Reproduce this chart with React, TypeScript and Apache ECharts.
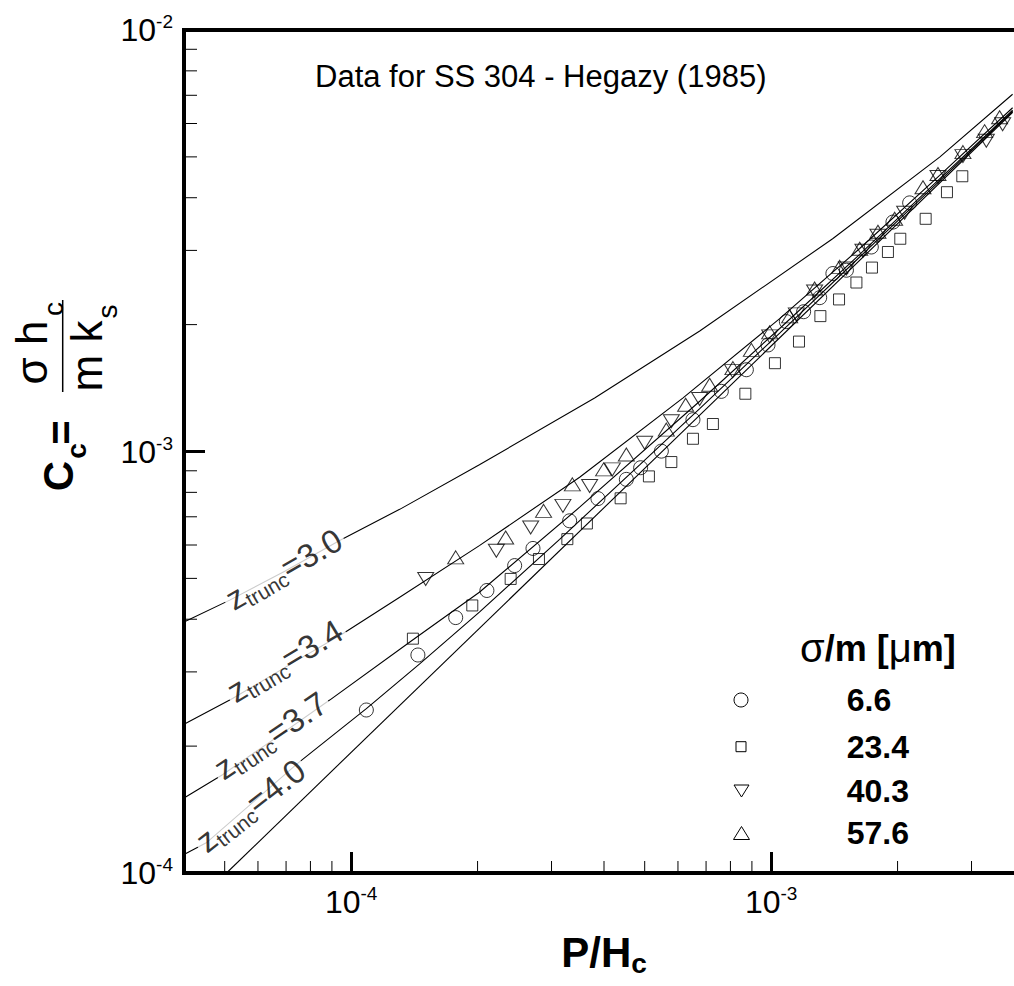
import React, { useEffect, useRef } from 'react';
import * as echarts from 'echarts';

const FONT = '"Liberation Sans", Arial, Helvetica, sans-serif';
const NARROW = '"Liberation Sans Narrow", "Arial Narrow", "Liberation Sans", Arial, sans-serif';

// Axis extents
const X_MIN = 4e-5;
const X_MAX = 4e-3;
const Y_MIN = 1e-4;
const Y_MAX = 1e-2;

// Minor tick values (decade sub-divisions)
const X_MINOR_TICKS = [5e-5, 6e-5, 7e-5, 8e-5, 9e-5, 2e-4, 3e-4, 4e-4, 5e-4, 6e-4, 7e-4, 8e-4, 9e-4, 2e-3, 3e-3];
const Y_MINOR_TICKS = [2e-4, 3e-4, 4e-4, 5e-4, 6e-4, 7e-4, 8e-4, 9e-4, 2e-3, 3e-3, 4e-3, 5e-3, 6e-3, 7e-3, 8e-3, 9e-3];

// Model curves [P/Hc, Cc]
const CURVE_CMY = [[5.05e-5, 1.0e-4], [3.76e-3, 6.38e-3]];
const CURVE_Z30 = [[4.0e-5, 3.94e-4], [5.14e-5, 4.44e-4], [6.95e-5, 5.2e-4], [9.39e-5, 6.15e-4], [1.305e-4, 7.29e-4], [2.02e-4, 9.3e-4], [3.8e-4, 1.339e-3], [6.76e-4, 1.931e-3], [1.401e-3, 3.197e-3], [2.519e-3, 4.995e-3], [3.758e-3, 7.04e-3]];
const CURVE_Z34 = [[4.0e-5, 2.253e-4], [5.22e-5, 2.595e-4], [7.06e-5, 3.1e-4], [9.55e-5, 3.695e-4], [1.305e-4, 4.51e-4], [2.02e-4, 5.98e-4], [3.5e-4, 8.69e-4], [6.16e-4, 1.339e-3], [1.048e-3, 2.067e-3], [1.625e-3, 3.031e-3], [2.519e-3, 4.518e-3], [3.758e-3, 6.539e-3]];
const CURVE_Z37 = [[4.0e-5, 1.506e-4], [4.94e-5, 1.711e-4], [6.5e-5, 2.067e-4], [8.89e-5, 2.572e-4], [1.401e-4, 3.571e-4], [2.02e-4, 4.636e-4], [3.5e-4, 7.377e-4], [6.76e-4, 1.316e-3], [1.048e-3, 1.958e-3], [1.625e-3, 2.934e-3], [2.519e-3, 4.432e-3], [3.758e-3, 6.45e-3]];
const CURVE_Z40 = [[4.0e-5, 1.106e-4], [4.52e-5, 1.179e-4], [7.47e-5, 1.822e-4], [1.087e-4, 2.454e-4], [1.456e-4, 3.134e-4], [2.02e-4, 4.159e-4], [3.136e-4, 6.188e-4], [4.864e-4, 9.297e-4], [6.76e-4, 1.264e-3], [1.048e-3, 1.91e-3], [1.625e-3, 2.894e-3], [2.519e-3, 4.385e-3], [3.758e-3, 6.415e-3]];

// Curve labels: z_trunc value, anchor on curve, text angle (deg)
const LABEL_Z = ['3.0', '3.4', '3.7', '4.0'];
const LABEL_POS = [[6.98e-5, 5.17e-4], [7.02e-5, 3.134e-4], [6.5e-5, 2.084e-4], [5.83e-5, 1.424e-4]];
const LABEL_ANGLE = [30, 31, 34, 38];

// Measured data, sigma/m [um]
const LEGEND_VALUES = ['6.6', '23.4', '40.3', '57.6'];
const PTS_66 = [[1.087e-4, 2.436e-4], [1.442e-4, 3.29e-4], [1.774e-4, 4.036e-4], [2.105e-4, 4.68e-4], [2.451e-4, 5.362e-4], [2.71e-4, 5.889e-4], [3.313e-4, 6.849e-4], [3.869e-4, 7.732e-4], [4.521e-4, 8.588e-4], [4.89e-4, 9.152e-4], [5.478e-4, 1.002e-3], [6.514e-4, 1.19e-3], [7.61e-4, 1.389e-3], [8.73e-4, 1.563e-3], [9.83e-4, 1.79e-3], [1.087e-3, 2.033e-3], [1.195e-3, 2.146e-3], [1.305e-3, 2.317e-3], [1.403e-3, 2.644e-3], [1.511e-3, 2.692e-3], [1.732e-3, 3.056e-3], [1.95e-3, 3.502e-3], [2.137e-3, 3.889e-3]];
const PTS_234 = [[1.403e-4, 3.597e-4], [1.943e-4, 4.313e-4], [2.398e-4, 4.985e-4], [2.8e-4, 5.558e-4], [3.272e-4, 6.195e-4], [3.642e-4, 6.749e-4], [4.382e-4, 7.744e-4], [5.117e-4, 8.728e-4], [5.786e-4, 9.44e-4], [6.514e-4, 1.072e-3], [7.267e-4, 1.162e-3], [8.682e-4, 1.371e-3], [1.021e-3, 1.62e-3], [1.165e-3, 1.823e-3], [1.31e-3, 2.095e-3], [1.451e-3, 2.295e-3], [1.596e-3, 2.517e-3], [1.738e-3, 2.731e-3], [1.897e-3, 2.974e-3], [2.03e-3, 3.197e-3], [2.333e-3, 3.565e-3], [2.622e-3, 4.123e-3], [2.852e-3, 4.498e-3]];
const PTS_403 = [[1.505e-4, 4.985e-4], [2.217e-4, 5.816e-4], [2.676e-4, 6.604e-4], [3.193e-4, 7.43e-4], [3.697e-4, 8.285e-4], [4.187e-4, 9.068e-4], [4.998e-4, 1.049e-3], [5.786e-4, 1.18e-3], [6.758e-4, 1.332e-3], [8.096e-4, 1.551e-3], [9.92e-4, 1.876e-3], [1.148e-3, 2.115e-3], [1.269e-3, 2.397e-3], [1.511e-3, 2.717e-3], [1.654e-3, 2.995e-3], [1.796e-3, 3.25e-3], [2.079e-3, 3.684e-3], [2.496e-3, 4.481e-3], [2.862e-3, 5.022e-3], [3.254e-3, 5.459e-3], [3.558e-3, 5.977e-3]];
const PTS_576 = [[1.774e-4, 5.609e-4], [2.333e-4, 6.253e-4], [2.872e-4, 7.231e-4], [3.363e-4, 8.356e-4], [3.992e-4, 9.068e-4], [4.521e-4, 9.84e-4], [5.629e-4, 1.127e-3], [6.258e-4, 1.291e-3], [7.138e-4, 1.44e-3], [8.11e-4, 1.577e-3], [8.973e-4, 1.742e-3], [9.92e-4, 1.917e-3], [1.107e-3, 2.092e-3], [1.269e-3, 2.436e-3], [1.456e-3, 2.742e-3], [1.625e-3, 3.028e-3], [1.796e-3, 3.322e-3], [1.968e-3, 3.566e-3], [2.299e-3, 4.236e-3], [2.496e-3, 4.554e-3], [2.862e-3, 5.133e-3], [3.223e-3, 5.754e-3], [3.499e-3, 6.21e-3]];

const TITLE = 'Data for SS 304 - Hegazy (1985)';

function powLabel(v: number) {
  const l = Math.log10(v);
  const r = Math.round(l);
  if (Math.abs(l - r) > 1e-6) return '';
  return `{a|10}{b|${r}}`;
}

const TICK_RICH = {
  a: { fontSize: 32, lineHeight: 36, fontFamily: FONT, color: '#000' },
  b: { fontSize: 19, lineHeight: 19, fontFamily: FONT, color: '#000', verticalAlign: 'top' },
};

function buildOption() {
  const curveLine = (name: string, data: number[][]) => ({
    name,
    type: 'line',
    data,
    symbol: 'none',
    smooth: false,
    silent: true,
    z: 2,
    lineStyle: { color: '#000', width: 1.1 },
  });
  const markerStyle = { color: 'rgba(0,0,0,0)', borderColor: '#000', borderWidth: 1 };
  const markers = (name: string, data: number[][], symbol: string, size: any, rotate = 0) => ({
    name,
    type: 'scatter',
    data,
    symbol,
    symbolSize: size,
    symbolRotate: rotate,
    silent: true,
    z: 3,
    itemStyle: markerStyle,
  });

  const rot = Math.PI / 2;
  const t = (text: string, x: number, y: number, size: number, bold: boolean, extra: any = {}) => {
    const { align, ...rest } = extra;
    return {
      type: 'text',
      x,
      y,
      silent: true,
      ...rest,
      style: {
        text,
        fontSize: size,
        fontWeight: bold ? 'bold' : 'normal',
        fontFamily: FONT,
        fill: '#000',
        align: align || 'center',
        verticalAlign: 'middle',
      },
    };
  };

  const legendY = [700, 746.7, 791, 833];

  return {
    animation: false,
    backgroundColor: '#fff',
    grid: { left: 184, right: 16, top: 30, bottom: 109, show: true, borderColor: '#000', borderWidth: 4, backgroundColor: 'rgba(0,0,0,0)' },
    xAxis: {
      type: 'log',
      logBase: 10,
      min: X_MIN,
      max: X_MAX,
      axisLine: { show: true, onZero: false, lineStyle: { color: '#000', width: 4 } },
      axisTick: { show: true, inside: true, length: 21, lineStyle: { color: '#000', width: 3 } },
      minorTick: { show: false },
      splitLine: { show: false },
      axisLabel: { show: true, margin: 11, formatter: powLabel, rich: TICK_RICH },
      name: '{a|P/H}{b|c}',
      nameLocation: 'middle',
      nameGap: 62,
      nameTextStyle: {
        rich: {
          a: { fontSize: 42, lineHeight: 42, fontWeight: 'bold', fontFamily: FONT, color: '#000', padding: [0, 0, 8, 0] },
          b: { fontSize: 28, lineHeight: 28, fontWeight: 'bold', fontFamily: FONT, color: '#000', verticalAlign: 'bottom' },
        },
      },
    },
    yAxis: {
      type: 'log',
      logBase: 10,
      min: Y_MIN,
      max: Y_MAX,
      axisLine: { show: true, onZero: false, lineStyle: { color: '#000', width: 4 } },
      axisTick: { show: true, inside: true, length: 21, lineStyle: { color: '#000', width: 3 } },
      minorTick: { show: false },
      splitLine: { show: false },
      axisLabel: { show: true, margin: 11, formatter: powLabel, rich: TICK_RICH },
    },
    series: [
      curveLine('CMY', CURVE_CMY),
      curveLine('z3.0', CURVE_Z30),
      curveLine('z3.4', CURVE_Z34),
      curveLine('z3.7', CURVE_Z37),
      curveLine('z4.0', CURVE_Z40),
      markers(LEGEND_VALUES[0], PTS_66, 'circle', 14),
      markers(LEGEND_VALUES[1], PTS_234, 'rect', 11),
      markers(LEGEND_VALUES[2], PTS_403, 'triangle', [16, 13], 180),
      markers(LEGEND_VALUES[3], PTS_576, 'triangle', [16, 13]),
      {
        name: 'curveLabels',
        type: 'scatter',
        silent: true,
        z: 6,
        symbolSize: 1,
        itemStyle: { color: 'rgba(0,0,0,0)' },
        data: LABEL_POS.map((p, i) => ({
          value: p,
          label: { rotate: LABEL_ANGLE[i], formatter: `{z|z}{s|trunc}{z|=${LABEL_Z[i]}}` },
        })),
        label: {
          show: true,
          position: 'inside',
          backgroundColor: '#fff',
          padding: [0, 3, 0, 3],
          rich: {
            z: { fontSize: 33, lineHeight: 32, fontFamily: NARROW, color: '#000', padding: [0, 0, 7, 0] },
            s: { fontSize: 21, lineHeight: 21, fontFamily: NARROW, color: '#000', verticalAlign: 'bottom' },
          },
        },
      },
      {
        name: 'minorTicks',
        type: 'custom',
        coordinateSystem: 'cartesian2d',
        silent: true,
        clip: false,
        z: 10,
        data: [
          ...X_MINOR_TICKS.map((v) => [v, Y_MIN, 0]),
          ...Y_MINOR_TICKS.map((v) => [X_MIN, v, 1]),
        ],
        renderItem: (params: any, api: any) => {
          const p = api.coord([api.value(0), api.value(1)]);
          const horiz = api.value(2) === 1;
          return {
            type: 'line',
            shape: horiz
              ? { x1: p[0], y1: p[1], x2: p[0] + 13, y2: p[1] }
              : { x1: p[0], y1: p[1], x2: p[0], y2: p[1] - 12 },
            style: { stroke: '#000', lineWidth: 1 },
          };
        },
      },
    ],
    graphic: [
      t(TITLE, 315, 76, 31, false, { align: 'left' }),
      // y-axis title, rotated
      t('C', 58, 476, 42, true, { rotation: rot }),
      t('c', 76, 451, 28, true, { rotation: rot }),
      t('=', 61.5, 432.5, 42, true, { rotation: rot }),
      t('\u03c3 h', 31.6, 352.5, 44, false, { rotation: rot }),
      t('c', 53, 309, 28, false, { rotation: rot }),
      { type: 'line', silent: true, shape: { x1: 62.7, y1: 300, x2: 62.7, y2: 392 }, style: { stroke: '#000', lineWidth: 1.5 } },
      t('m k', 86.6, 356, 44, false, { rotation: rot }),
      t('s', 107.5, 311.5, 28, false, { rotation: rot }),
      // legend
      {
        type: 'text',
        x: 800,
        y: 648,
        silent: true,
        style: {
          text: '{g|\u03c3}{t|/m [}{g|\u03bc}{t|m]}',
          align: 'left',
          verticalAlign: 'middle',
          rich: {
            g: { fontSize: 40, fontFamily: FONT, fill: '#000' },
            t: { fontSize: 36, fontWeight: 'bold', fontFamily: FONT, fill: '#000' },
          },
        },
      },
      { type: 'circle', silent: true, shape: { cx: 741, cy: legendY[0], r: 7 }, style: { fill: 'none', stroke: '#000', lineWidth: 1 } },
      { type: 'rect', silent: true, shape: { x: 736, y: legendY[1] - 5, width: 10, height: 10 }, style: { fill: 'none', stroke: '#000', lineWidth: 1 } },
      { type: 'polygon', silent: true, shape: { points: [[734, legendY[2] - 6], [749, legendY[2] - 6], [741.5, legendY[2] + 6]] }, style: { fill: 'none', stroke: '#000', lineWidth: 1 } },
      { type: 'polygon', silent: true, shape: { points: [[733.5, legendY[3] + 6.5], [749.5, legendY[3] + 6.5], [741.5, legendY[3] - 6.5]] }, style: { fill: 'none', stroke: '#000', lineWidth: 1 } },
      ...LEGEND_VALUES.map((v, i) => t(v, 846.7, legendY[i], 32, true, { align: 'left' })),
    ],
  };
}

export default function App() {
  const ref = useRef<HTMLDivElement>(null);
  useEffect(() => {
    if (!ref.current) return;
    const chart = echarts.init(ref.current, undefined, { renderer: 'svg' });
    chart.setOption(buildOption() as any);
    return () => chart.dispose();
  }, []);
  return (
    <div style={{ position: 'fixed', left: 0, top: 0, width: 1014, height: 986, overflow: 'hidden', background: '#fff' }}>
      <div ref={ref} style={{ width: 1040, height: 986 }} />
    </div>
  );
}
